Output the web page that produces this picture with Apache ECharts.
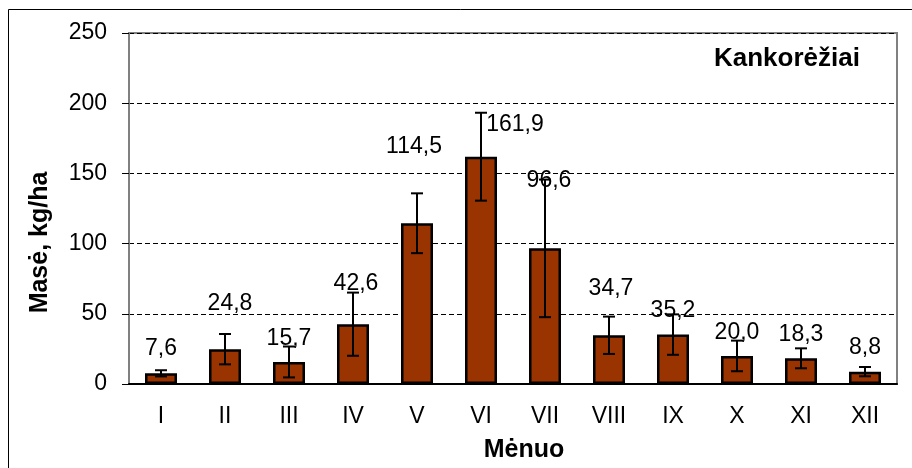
<!DOCTYPE html>
<html>
<head>
<meta charset="utf-8">
<script src="https://cdn.jsdelivr.net/npm/echarts@6/dist/echarts.min.js"></script>
<style>
html, body { margin: 0; padding: 0; background: #fff; }
#chart { width: 912px; height: 468px; }
</style>
</head>
<body>
<div id="chart"></div>
<script>
// data
const months = ['I', 'II', 'III', 'IV', 'V', 'VI', 'VII', 'VIII', 'IX', 'X', 'XI', 'XII'];
const mass = [7.6, 24.8, 15.7, 42.6, 114.5, 161.9, 96.6, 34.7, 35.2, 20.0, 18.3, 8.8];
const errors = [2.2, 10.8, 11, 22.5, 21.3, 31.3, 49, 13.3, 14.4, 10.9, 7.1, 3.3];

// the value labels were hand-placed in the original, so nudge them
const labelNudge = [[0, -1], [5, -22], [0, 0], [3, -17], [-3, -53], [34, -9],
                    [4, -44], [2, -23], [0, 0], [0, 0], [0, 0], [0, 0]];

const fmt = v => v.toFixed(1).replace('.', ',');

const chart = echarts.init(document.getElementById('chart'));

const option = {
    animation: false,
    backgroundColor: '#fff',
    textStyle: { fontFamily: 'Liberation Sans, Arial, sans-serif' },
    title: {
        text: 'Kankorėžiai',
        left: 714,
        top: 46,
        padding: 0,
        textStyle: { fontSize: 26, fontWeight: 'bold', color: '#000', fontFamily: 'Liberation Sans, Arial, sans-serif' }
    },
    graphic: [{
        type: 'rect',
        shape: { x: 8.5, y: 9.5, width: 1000, height: 1000 },
        style: { fill: 'none', stroke: '#000', lineWidth: 1 },
        silent: true
    }],
    grid: {
        left: 129, top: 33, right: 15, bottom: 82,
        show: true,
        borderColor: '#808080',
        borderWidth: 2,
        backgroundColor: '#fff'
    },
    xAxis: {
        type: 'category',
        data: months,
        name: 'Mėnuo',
        nameLocation: 'middle',
        nameGap: 54,
        nameTextStyle: { fontSize: 25, fontWeight: 'bold', color: '#000', padding: [0, 0, 0, 22] },
        axisLine: { lineStyle: { color: '#000', width: 2 } },
        axisTick: { length: 8, lineStyle: { color: '#000', width: 1 } },
        axisLabel: { fontSize: 23, color: '#000', margin: 21 },
        splitLine: { show: false }
    },
    yAxis: {
        type: 'value',
        min: 0, max: 250, interval: 50,
        name: 'Masė, kg/ha',
        nameLocation: 'middle',
        nameGap: 76,
        nameTextStyle: { fontSize: 25, fontWeight: 'bold', color: '#000', padding: [0, 68, 0, 0] },
        axisLine: { show: true, lineStyle: { color: '#808080', width: 2 } },
        axisTick: { show: true, length: 7, lineStyle: { color: '#000', width: 1 } },
        axisLabel: { fontSize: 23, color: '#000', margin: 22 },
        splitLine: { lineStyle: { color: '#000', width: 1, type: [5, 3] } }
    },
    series: [
        {
            type: 'bar',
            data: mass.map((v, i) => ({
                value: v,
                label: { offset: labelNudge[i] }
            })),
            barWidth: 32,
            itemStyle: { color: '#993300', borderColor: '#000', borderWidth: 2.5 },
            label: {
                show: true,
                position: 'top',
                distance: 12,
                fontSize: 23,
                color: '#000',
                formatter: p => fmt(p.value)
            },
            z: 2
        },
        {
            type: 'custom',
            data: mass.map((v, i) => [i, v - errors[i], v + errors[i]]),
            encode: { x: 0, y: [1, 2] },
            z: 5,
            renderItem: (params, api) => {
                const lo = api.coord([api.value(0), api.value(1)]);
                const hi = api.coord([api.value(0), api.value(2)]);
                const cap = 6;
                const style = { stroke: '#000', lineWidth: 2 };
                return {
                    type: 'group',
                    children: [
                        { type: 'line', shape: { x1: hi[0], y1: hi[1], x2: lo[0], y2: lo[1] }, style },
                        { type: 'line', shape: { x1: hi[0] - cap, y1: hi[1], x2: hi[0] + cap, y2: hi[1] }, style },
                        { type: 'line', shape: { x1: lo[0] - cap, y1: lo[1], x2: lo[0] + cap, y2: lo[1] }, style }
                    ]
                };
            }
        }
    ]
};

chart.setOption(option);
</script>
</body>
</html>
